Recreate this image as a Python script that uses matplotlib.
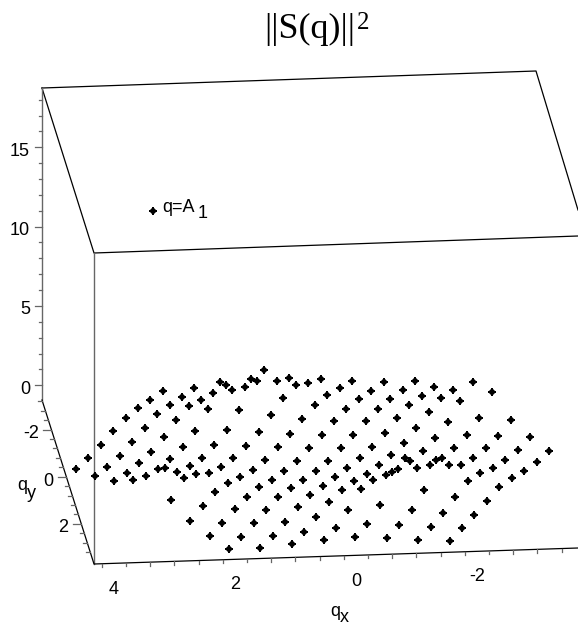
import numpy as np
import matplotlib
matplotlib.use("Agg")
import matplotlib.pyplot as plt

plt.rcParams['font.family'] = ['Liberation Sans', 'DejaVu Sans']

# 散点的位置，从图上读出来的（左半边，放大3倍后的坐标）
left_x = [47, 85, 122, 159, 197, 234, 271, 308, 105, 142, 179, 217, 254, 291, 329, 366, 403,
          163, 200, 236, 274, 311, 349, 386, 423, 460, 480, 497, 517, 555, 574, 592, 612, 650,
          687, 707, 744, 220, 257, 293, 314, 331, 369, 405, 443, 351, 372, 409, 446, 484, 520,
          558, 596, 632, 670, 389, 427, 463, 501, 538, 334, 429, 466, 504, 541, 578, 615, 653,
          690, 727, 765, 391, 487, 524, 561, 598, 636, 673, 710, 747, 449, 544, 581, 618, 655,
          693, 730, 768, 506, 601, 639, 676, 713, 750, 696, 733, 769]
left_y = [358, 323, 284, 242, 203, 175, 150, 123, 379, 350, 317, 276, 233, 193, 166, 141, 115,
          393, 368, 340, 305, 262, 210, 167, 149, 128, 96, 105, 120, 112, 86, 93, 59, 93,
          83, 104, 100, 389, 377, 357, 354, 328, 292, 244, 178, 366, 384, 373, 370, 352, 324,
          288, 245, 196, 145, 349, 323, 286, 239, 181, 449, 467, 425, 400, 381, 359, 329, 292,
          251, 208, 165, 513, 518, 477, 440, 412, 389, 363, 333, 295, 559, 561, 520, 479, 442,
          415, 389, 362, 598, 593, 557, 515, 472, 435, 582, 546, 501]

# 右半边
right_x = [4, 22, 59, 96, 117, 154, 191, 79, 174, 211, 248, 285, 41, 137, 232, 268, 306, 343,
           400, 458, 363, 421, 515, 6, 99, 194, 289, 326, 383, 478, 572, 62, 156, 251, 346,
           441, 535, 630, 25, 120, 214, 309, 403, 498, 593, 687, 82, 177, 254, 271, 291, 329,
           348, 366, 386, 423, 460, 556, 651, 45, 140, 197, 216, 234, 518, 481, 613, 8, 102,
           160, 65, 122, 444, 575, 538, 28, 85, 180, 275, 312, 406, 501, 370, 463, 48, 142,
           237, 332, 427, 11, 105, 200, 294, 389]
right_y = [86, 134, 115, 93, 146, 122, 97, 176, 177, 146, 120, 93, 214, 214, 205, 166, 137, 111,
           120, 97, 145, 153, 127, 256, 256, 248, 234, 186, 216, 204, 210, 295, 290, 278, 265,
           256, 257, 262, 333, 325, 315, 304, 295, 295, 299, 303, 355, 346, 325, 334, 353, 346,
           329, 325, 345, 345, 325, 331, 336, 382, 372, 375, 366, 358, 354, 369, 362, 407, 394,
           391, 419, 417, 393, 385, 412, 455, 480, 466, 479, 419, 441, 452, 488, 494, 533, 522,
           525, 531, 535, 571, 562, 564, 570, 573]

z_major = [0, 5, 10, 15]
qx_major = [4, 2, 0, -2]
qx_label_y = [589.5, 584.5, 581.5, 576.5]
qy_major = [-2, 0, 2]
qy_label_x = [39, 53, 68]
qy_label_y = [434, 481, 527]

TICK = "#666666"
FS = 13


def z_pix(z):
    return 385.3 - 15.87 * z


def qx_pix(q):
    return 356 - 60.5 * q


def qy_pix(q):
    return 476.7 + 23.6 * q


def dots(x, y):
    ax.plot(x, y, linestyle="none", marker="8", color="black", markersize=5, markeredgewidth=0)
    ax.plot(x, y, linestyle="none", marker="P", color="black", markersize=5.8, markeredgewidth=0)


fig = plt.figure(figsize=(5.78, 6.24), dpi=100)
ax = fig.add_axes([0, 0, 1, 1])
ax.set_xlim(0, 578)
ax.set_ylim(624, 0)
ax.axis("off")

# 盒子的边框
ax.plot([42, 536, 578], [88, 71, 210], color="black", lw=0.9)
ax.plot([42, 94, 578], [88, 253, 236], color="black", lw=0.9)
ax.plot([42, 42], [88, 400], color=TICK, lw=1.0)
ax.plot([94, 94], [253, 564], color=TICK, lw=1.0)
ax.plot([42, 94, 578], [400, 564, 548], color="black", lw=0.9)

# z轴刻度
for z in np.arange(0, 19):
    major = z in z_major
    ax.plot([42 - (7 if major else 3.5), 42], [z_pix(z), z_pix(z)], color=TICK, lw=0.9)
for z in z_major:
    ax.text(30, z_pix(z) + 4, str(z), ha="right", va="center", fontsize=FS)

# qx轴刻度
for q in np.arange(4.2, -3.7, -0.4):
    x = qx_pix(q)
    y = 564 - (x - 94) * 16 / 484
    major = any(abs(q - m) < 0.01 for m in qx_major)
    ax.plot([x, x], [y, y + (7 if major else 3.5)], color=TICK, lw=0.9)
for q, y in zip(qx_major, qx_label_y):
    ax.text(qx_pix(q), y, str(q), ha="center", va="center", fontsize=FS)

# qy轴刻度
for q in np.arange(-3.2, 3.6, 0.4):
    y = qy_pix(q)
    x = 42 + (y - 400) * 52 / 164
    major = any(abs(q - m) < 0.01 for m in qy_major)
    ax.plot([x - (8 if major else 4), x], [y, y], color=TICK, lw=0.9)
for q, x, y in zip(qy_major, qy_label_x, qy_label_y):
    ax.text(x, y, str(q), ha="right", va="center", fontsize=FS)

# 散点
px = [60 + v / 3 for v in left_x] + [320 + v / 3 for v in right_x]
py = [350 + v / 3 for v in left_y] + [350 + v / 3 for v in right_y]
dots(px, py)

dots([152.5], [211])
ax.text(162, 208, "q=A", ha="left", va="center", fontsize=FS)
ax.text(198, 213, "1", ha="left", va="center", fontsize=FS)

# 轴标签
ax.text(17, 486, "q", ha="left", va="center", fontsize=FS)
ax.text(27, 493, "y", ha="left", va="center", fontsize=FS)
ax.text(330, 611, "q", ha="left", va="center", fontsize=FS)
ax.text(340, 617, "x", ha="left", va="center", fontsize=FS)

# 标题
ax.text(264, 29, "||S(q)||", ha="left", va="center", fontsize=26, family="Liberation Serif")
ax.text(357, 23, "2", ha="left", va="center", fontsize=18, family="Liberation Serif")

fig.savefig("out.png", dpi=100)
